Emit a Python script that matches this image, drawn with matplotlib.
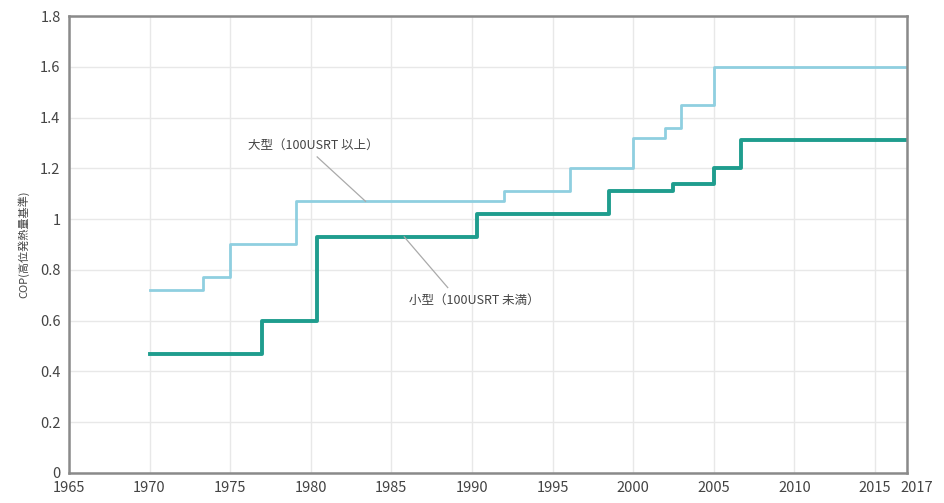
import matplotlib
matplotlib.use("Agg")
import matplotlib.pyplot as plt
import matplotlib.transforms as mtransforms

plt.rcParams["font.family"] = ["Noto Sans CJK JP", "DejaVu Sans"]

# step data (year the level starts, COP value)
large_years = [1970, 1973.3, 1975, 1979.1, 1992, 1996.1, 2000, 2002, 2003, 2005, 2017]
large_cop = [0.72, 0.77, 0.90, 1.07, 1.11, 1.20, 1.32, 1.36, 1.45, 1.60, 1.60]
small_years = [1970, 1977, 1980.4, 1990.3, 1998.5, 2002.5, 2005, 2006.7, 2017]
small_cop = [0.47, 0.60, 0.93, 1.02, 1.11, 1.14, 1.20, 1.31, 1.31]

x_ticks = [1965, 1970, 1975, 1980, 1985, 1990, 1995, 2000, 2005, 2010, 2015, 2017]
y_ticks = [0, 0.2, 0.4, 0.6, 0.8, 1.0, 1.2, 1.4, 1.6, 1.8]
y_tick_labels = ["0", "0.2", "0.4", "0.6", "0.8", "1", "1.2", "1.4", "1.6", "1.8"]

large_label = "大型（100USRT 以上）"
small_label = "小型（100USRT 未満）"
y_label = "COP(高位発熱量基準)"

colors = {"large": "#8fcfe0", "small": "#1f9d8e"}

fig = plt.figure(figsize=(9.44, 5.03), dpi=100)
ax = fig.add_axes([0.073, 0.06, 0.888, 0.908])

ax.step(large_years, large_cop, where="post", color=colors["large"], linewidth=2.0)
ax.step(small_years, small_cop, where="post", color=colors["small"], linewidth=2.8)

ax.set_xlim(1965, 2017)
ax.set_ylim(0, 1.8)
ax.set_xticks(x_ticks)
ax.set_xticklabels([str(t) for t in x_ticks])
ax.set_yticks(y_ticks)
ax.set_yticklabels(y_tick_labels)
ax.tick_params(length=0, labelsize=10.5, labelcolor="#444444", pad=6)
# the 2017 label sits a little right of the spine in the reference
last = ax.get_xticklabels()[-1]
last.set_transform(last.get_transform() + mtransforms.ScaledTranslation(0.1, 0, fig.dpi_scale_trans))
ax.grid(color="#e8e8e8", linewidth=1.0)
ax.set_axisbelow(True)
for s in ax.spines.values():
    s.set_color("#8a8a8a")
    s.set_linewidth(1.8)

ax.set_ylabel(y_label, fontsize=8, color="#444444", labelpad=8)

# callouts with leader lines
ax.plot([1980.4, 1983.4], [1.245, 1.07], color="#aaaaaa", linewidth=0.9)
ax.text(1976.1, 1.29, large_label, fontsize=9, color="#444444", va="center")
ax.plot([1988.5, 1985.8], [0.73, 0.93], color="#aaaaaa", linewidth=0.9)
ax.text(1986.1, 0.68, small_label, fontsize=9, color="#444444", va="center")

fig.savefig("out.png", dpi=100)
